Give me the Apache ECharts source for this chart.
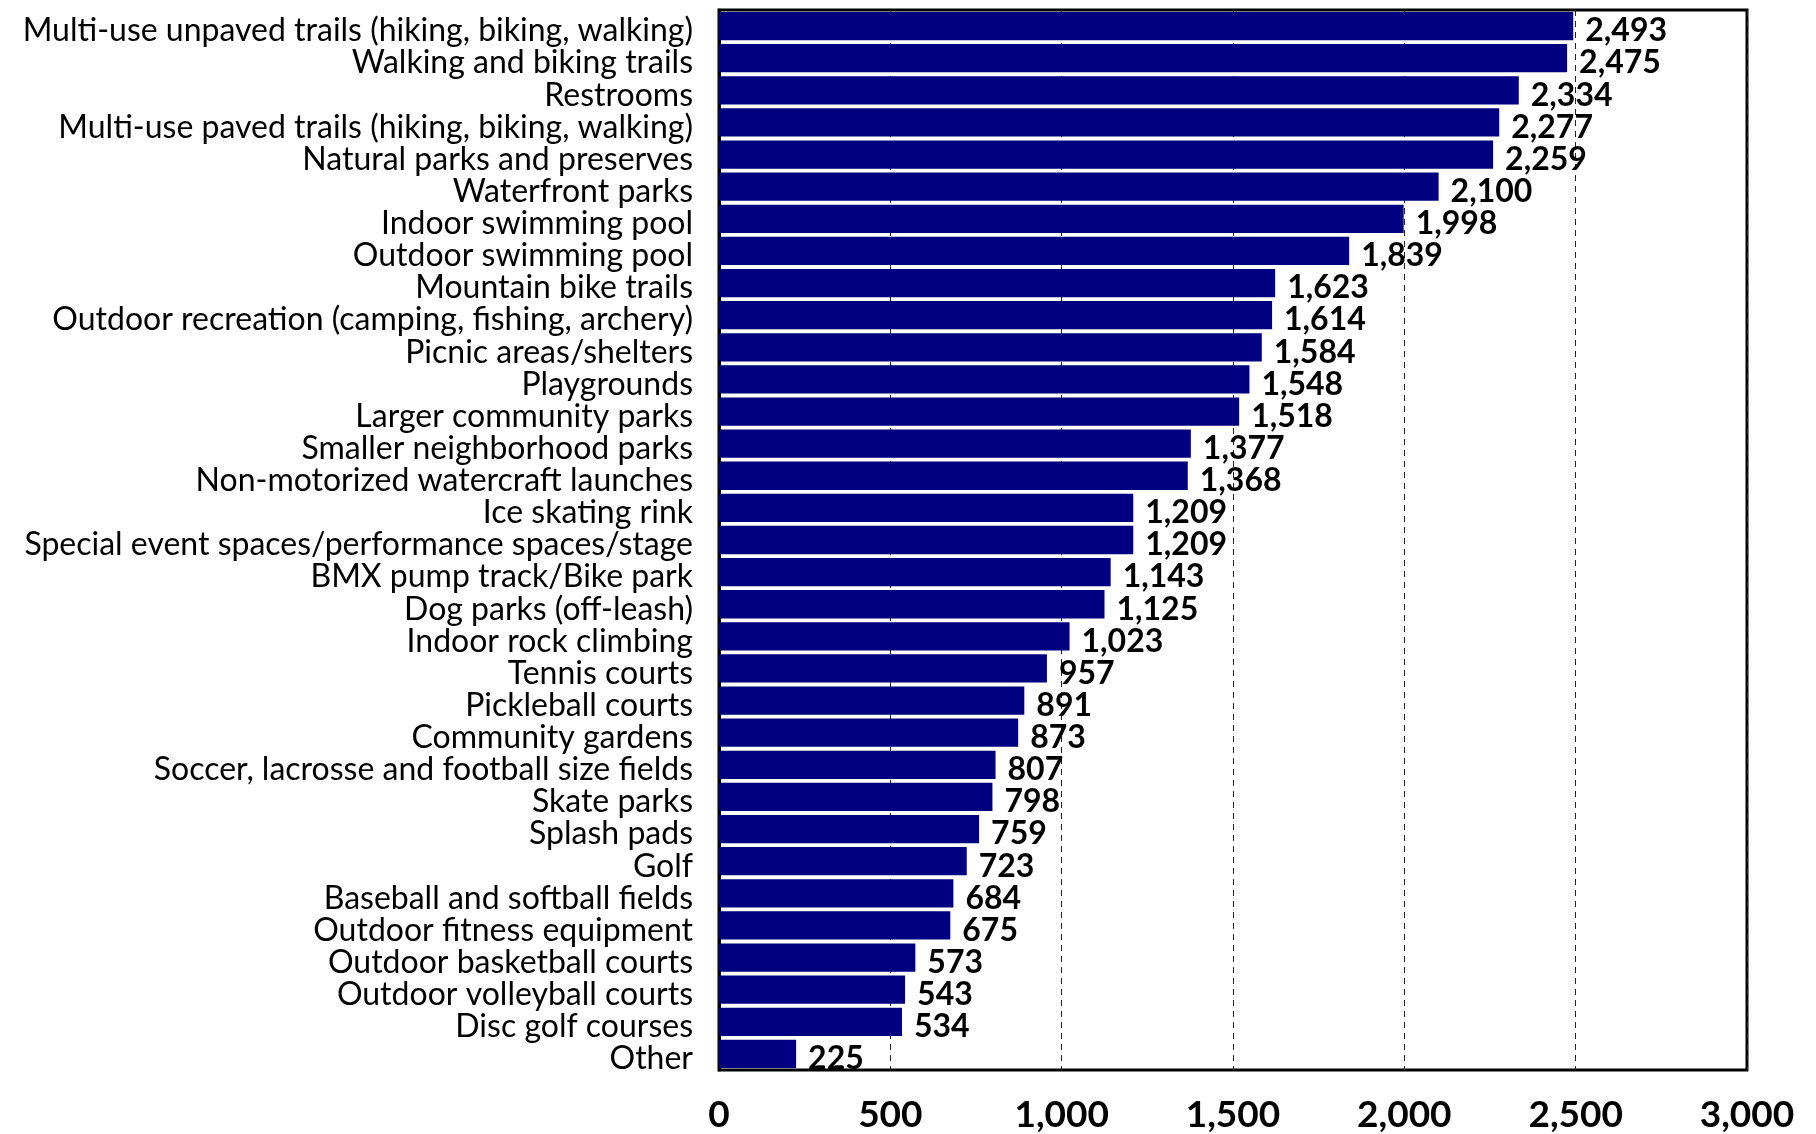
<!DOCTYPE html>
<html>
<head>
<meta charset="utf-8">
<script src="https://cdn.jsdelivr.net/npm/echarts@6/dist/echarts.min.js"></script>
<style>html,body{margin:0;padding:0;background:#fff;}#c{width:1816px;height:1134px;}</style>
</head>
<body>
<div id="c"></div>
<script>
const categories = [
  "Multi-use unpaved trails (hiking, biking, walking)",
  "Walking and biking trails",
  "Restrooms",
  "Multi-use paved trails (hiking, biking, walking)",
  "Natural parks and preserves",
  "Waterfront parks",
  "Indoor swimming pool",
  "Outdoor swimming pool",
  "Mountain bike trails",
  "Outdoor recreation (camping, fishing, archery)",
  "Picnic areas/shelters",
  "Playgrounds",
  "Larger community parks",
  "Smaller neighborhood parks",
  "Non-motorized watercraft launches",
  "Ice skating rink",
  "Special event spaces/performance spaces/stage",
  "BMX pump track/Bike park",
  "Dog parks (off-leash)",
  "Indoor rock climbing",
  "Tennis courts",
  "Pickleball courts",
  "Community gardens",
  "Soccer, lacrosse and football size fields",
  "Skate parks",
  "Splash pads",
  "Golf",
  "Baseball and softball fields",
  "Outdoor fitness equipment",
  "Outdoor basketball courts",
  "Outdoor volleyball courts",
  "Disc golf courses",
  "Other"
];
const values = [2493, 2475, 2334, 2277, 2259, 2100, 1998, 1839, 1623, 1614, 1584, 1548, 1518, 1377, 1368, 1209, 1209, 1143, 1125, 1023, 957, 891, 873, 807, 798, 759, 723, 684, 675, 573, 543, 534, 225];
const xTicks = [0, 500, 1000, 1500, 2000, 2500, 3000];

const fmt = v => Number(v).toLocaleString('en-US');
const chart = echarts.init(document.getElementById('c'), null, {renderer: 'canvas'});
chart.setOption({
  animation: false,
  backgroundColor: '#ffffff',
  grid: {left: 719, right: 69, top: 10, bottom: 63, containLabel: false,
         show: true, borderColor: '#000', borderWidth: 3, backgroundColor: 'transparent'},
  xAxis: {
    type: 'value', min: xTicks[0], max: xTicks[xTicks.length - 1], interval: 500,
    axisLine: {show: false},
    axisTick: {show: false},
    splitLine: {show: true, lineStyle: {color: '#222', width: 1, type: [6, 5]}},
    axisLabel: {margin: 27, fontFamily: 'Lato', fontWeight: 'bold', fontSize: 37, color: '#000',
                formatter: v => fmt(v)}
  },
  yAxis: {
    type: 'category', data: categories, inverse: true,
    axisLine: {show: true, lineStyle: {color: '#000', width: 3}},
    axisTick: {show: false},
    axisLabel: {interval: 0, margin: 26, fontFamily: 'Lato', fontSize: 32, color: '#000',
                formatter: v => '{a|' + v + '}',
                rich: {a: {fontFamily: 'Lato', fontSize: 32, color: '#000', padding: [10, 0, 0, 0]}}}
  },
  series: [{
    type: 'bar', data: values, barCategoryGap: '12%',
    itemStyle: {color: '#000080'},
    label: {show: true, position: 'right', distance: 12, offset: [0, 5], fontFamily: 'Lato', fontWeight: 'bold',
            fontSize: 32, color: '#000', formatter: p => fmt(p.value)}
  }]
});
</script>
</body>
</html>
